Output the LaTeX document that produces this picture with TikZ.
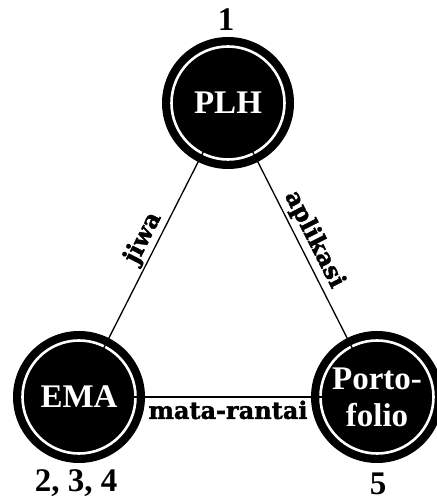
\documentclass[tikz,border=0pt]{standalone}
\usepackage{fontspec}
\setmainfont{Liberation Serif}
\newfontfamily\slabfont{DejaVuSerif-Bold}[Extension=.ttf, FakeBold=1.6]
\begin{document}
\begin{tikzpicture}[x=1pt,y=1pt,
  hub/.style={circle, fill=black, minimum size=132pt, inner sep=0pt,
              text=white, font=\fontsize{33}{37}\selectfont\bfseries, align=center},
  numlabel/.style={font=\fontsize{33}{33}\selectfont\bfseries},
  edgelabel/.style={font=\slabfont\fontsize{24}{24}\selectfont, sloped, inner sep=2pt},
  link/.style={line width=1.3pt, shorten <=-13pt, shorten >=-13pt}]
\useasboundingbox (0,0) rectangle (436,502);

% the three hubs
\node[hub] (plh) at (228,399) {PLH};
\node[hub] (ema) at (79,105) {EMA};
\node[hub] (port) at (377,105) {Porto-\\folio};

% inner white rings
\foreach \n in {plh,ema,port}
  \draw[white, line width=2.6pt] (\n.center) circle[radius=56.5pt];

% connectors with their labels
\draw[link] (ema) -- node[edgelabel, above, pos=0.53] {jiwa} (plh);
\draw[link] (plh) -- node[edgelabel, above, pos=0.48, inner sep=3pt] {aplikasi} (port);
\draw[link] (ema) -- node[edgelabel, below, inner sep=3pt] {mata-rantai} (port);

% stage numbers
\node[numlabel] (n1) at (226,482) {1};
\node[numlabel] (n234) at (76,19) {2, 3, 4};
\node[numlabel] (n5) at (378,18) {5};
\end{tikzpicture}
\end{document}
